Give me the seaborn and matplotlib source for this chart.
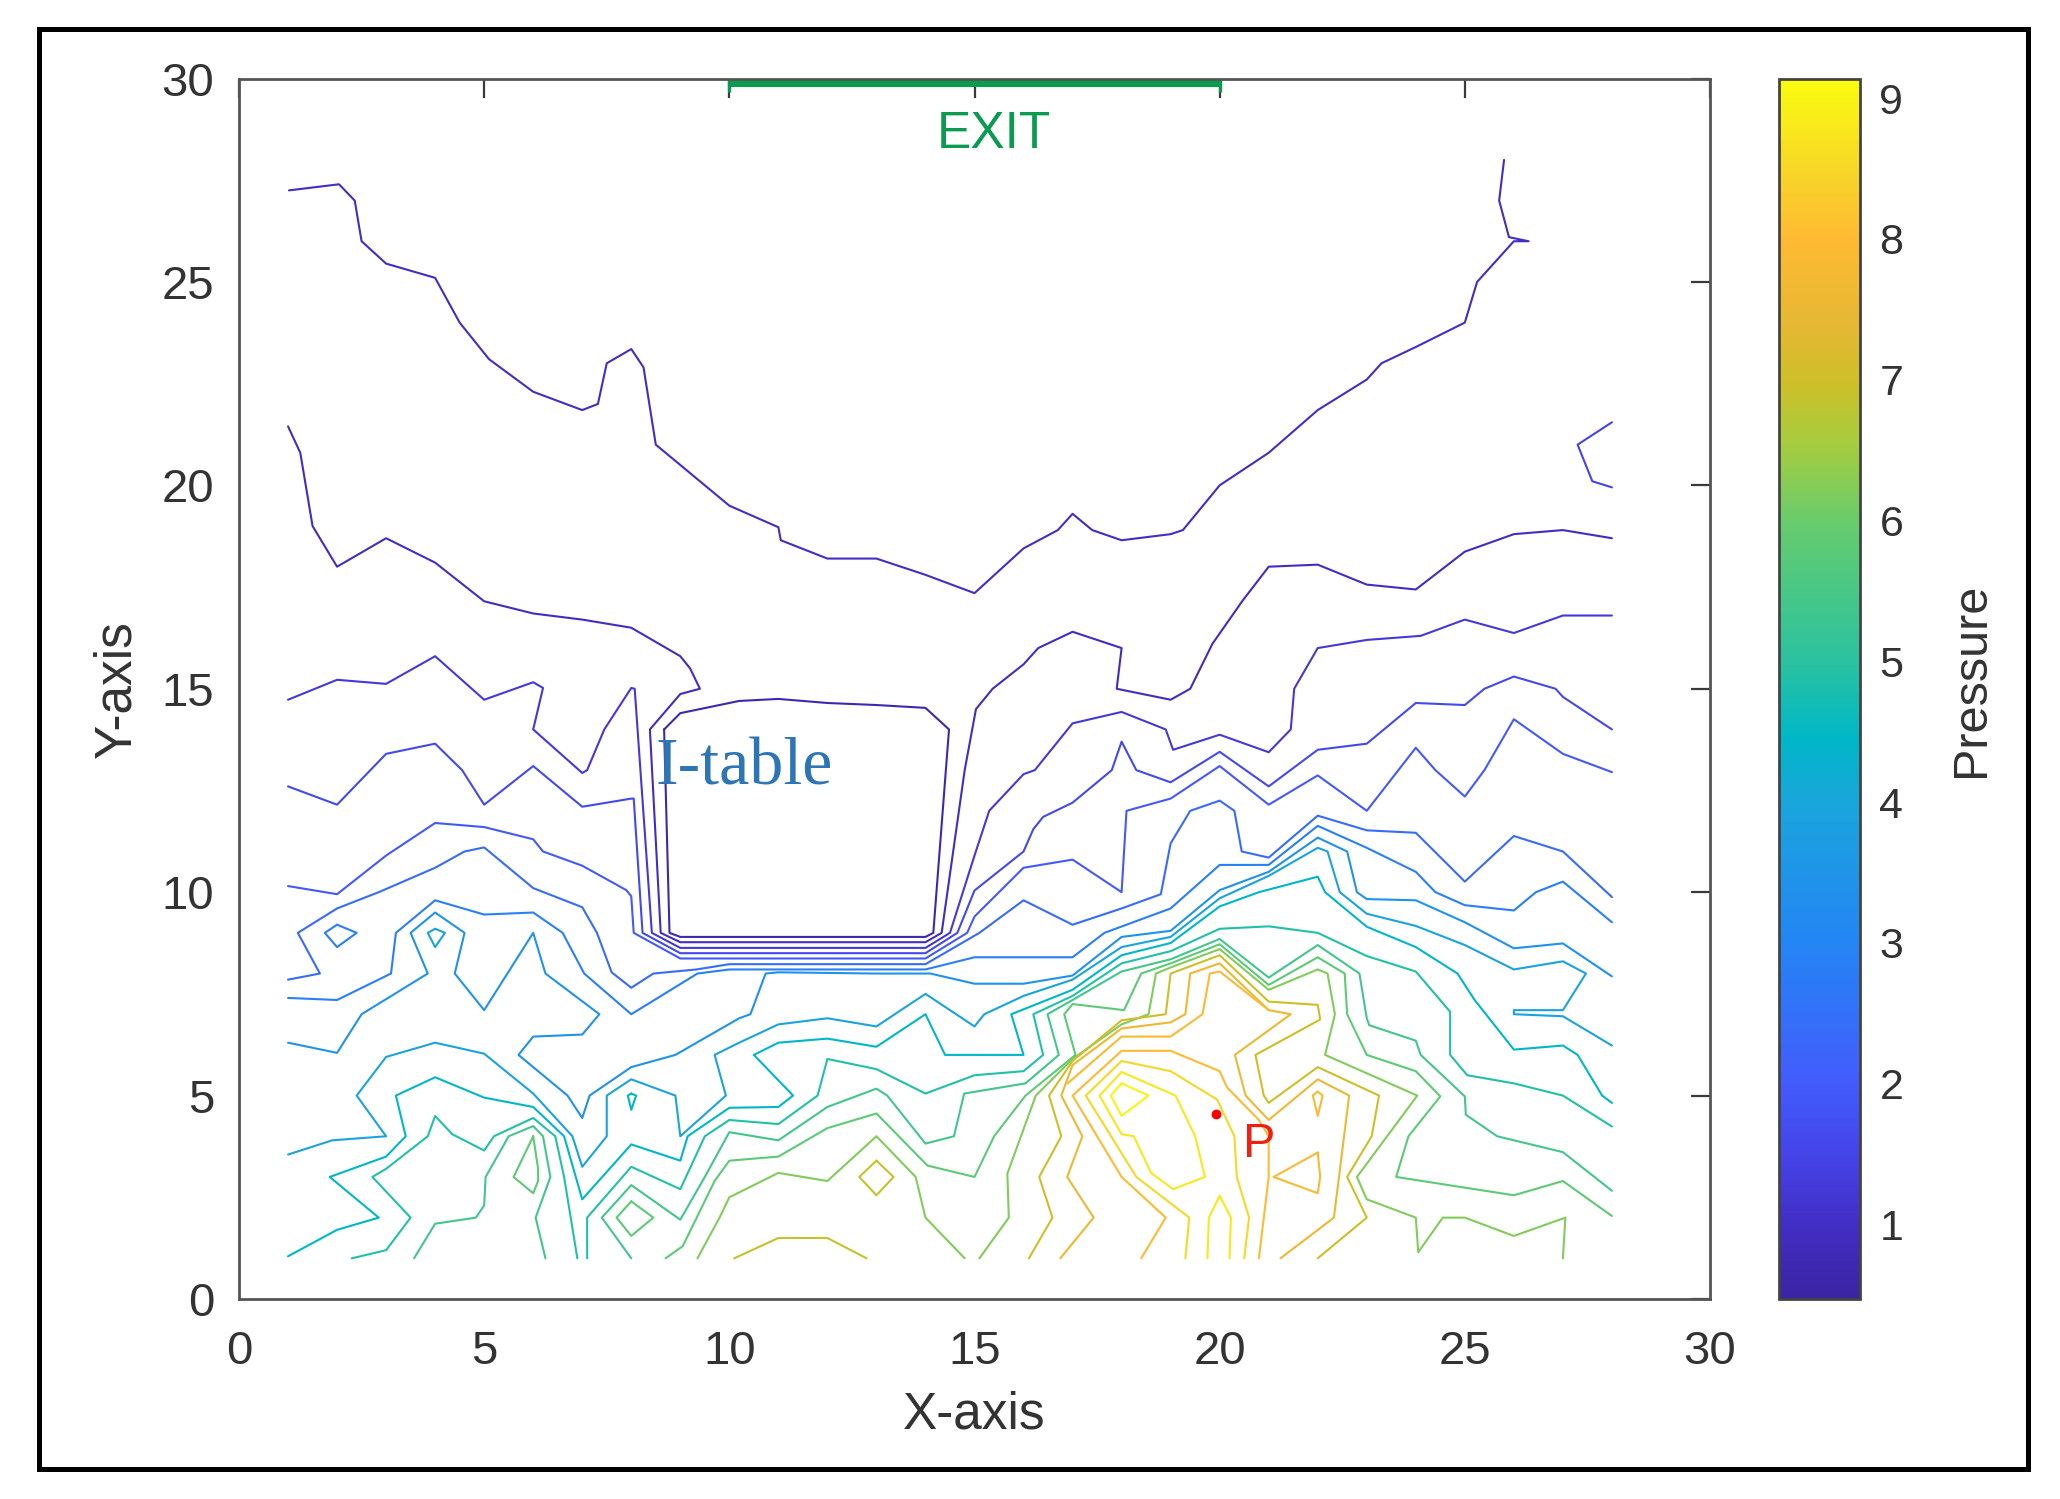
import matplotlib
matplotlib.use("Agg")
import matplotlib.pyplot as plt
from matplotlib.colors import LinearSegmentedColormap, Normalize
from matplotlib.cm import ScalarMappable
from matplotlib.patches import Rectangle
import pandas as pd
import seaborn as sns

# contour lines, (x, y) in axis units
table_inner = [(8.67, 14), (9, 14.4), (10.2, 14.7), (11, 14.75), (12, 14.65), (13, 14.6), (14, 14.53), (14.48, 14),
               (14.16, 9), (14, 8.9), (9, 8.9), (8.78, 9), (8.67, 14)]
line_top = [(1.02, 27.25), (2.04, 27.4), (2.36, 27), (2.5, 26), (3, 25.45), (4, 25.1), (4.5, 24), (5.1, 23.1), (6, 22.3),
            (7, 21.85), (7.32, 22), (7.5, 23), (8, 23.35), (8.25, 22.9), (8.5, 21), (10, 19.5), (11, 18.97), (11.05, 18.65),
            (12, 18.2), (13, 18.2), (14, 17.8), (15, 17.35), (16, 18.45), (16.7, 18.9), (17, 19.3), (17.4, 18.9), (18, 18.65),
            (19, 18.8), (19.25, 18.9), (20, 20), (21, 20.8), (22, 21.85), (23, 22.6), (23.3, 23), (24, 23.4), (25, 24),
            (25.25, 25), (26, 26), (26.3, 26), (25.9, 26.1), (25.7, 27), (25.8, 28)]
line_corner = [(28, 21.55), (27.3, 21), (27.6, 20.1), (28, 19.95)]
line_2 = [(1, 21.45), (1.25, 20.8), (1.5, 19), (2, 18), (3, 18.7), (4, 18.1), (5, 17.15), (6, 16.85), (7, 16.7), (8, 16.5),
          (9, 15.8), (9.2, 15.5), (9.4, 15), (9, 14.87), (8.38, 14), (8.6, 9), (9, 8.77), (14, 8.77), (14.33, 9), (14.8, 13),
          (15.03, 14.5), (15.37, 15), (16, 15.6), (16.3, 16), (17, 16.4), (18, 16), (17.9, 15), (19, 14.73), (19.4, 15),
          (19.85, 16.1), (20.47, 17.17), (21, 18), (22, 18.05), (23, 17.56), (24, 17.44), (25, 18.37), (26, 18.8), (27, 18.9),
          (28, 18.7)]
line_3 = [(1, 14.73), (2, 15.22), (3, 15.12), (4, 15.8), (5, 14.73), (6, 15.16), (6.2, 15.02), (6, 14), (7, 12.93), (7.1, 13),
          (7.45, 14), (8, 15.02), (8.07, 15), (8.42, 9), (9, 8.63), (14, 8.63), (14.5, 9), (15, 10.9), (15.3, 12), (16, 12.9),
          (16.23, 13), (16.9, 14), (17, 14.15), (18, 14.43), (18.9, 14), (19.05, 13.5), (20, 13.87), (21, 13.44), (21.45, 14),
          (21.52, 15), (22, 16), (23, 16.2), (24.1, 16.3), (25, 16.7), (26, 16.37), (27, 16.8), (28, 16.8)]
line_4 = [(1, 12.6), (2, 12.15), (3, 13.4), (4, 13.65), (4.55, 13), (5, 12.15), (6, 13.1), (7, 12.1), (8, 12.3), (8.05, 12.3),
          (8.23, 9), (9, 8.5), (14, 8.5), (14.65, 9), (15, 10.04), (16, 11), (16.2, 11.55), (16.4, 11.85), (17, 12.2), (17.8, 13),
          (18, 13.7), (18.3, 13), (19, 12.7), (20, 13.45), (21, 12.6), (22, 13.5), (23, 13.65), (24, 14.65), (25, 14.6),
          (25.4, 15), (26, 15.3), (26.85, 15), (27, 14.8), (28, 14)]
line_5 = [(1, 10.15), (2, 9.95), (3, 10.9), (4, 11.7), (5, 11.6), (6, 11.3), (6.2, 11), (7, 10.65), (7.9, 10.05), (8, 9.9),
          (8.05, 9), (9, 8.37), (14, 8.37), (14.85, 9), (15, 9.4), (16, 10.6), (17, 10.8), (18, 10), (18.1, 12), (19, 12.3),
          (20, 13.1), (21, 12.15), (22, 12.87), (23, 12), (24, 13.55), (24.4, 13), (25, 12.35), (25.4, 13), (26, 14.25),
          (27, 13.4), (28, 12.95)]
line_6 = [(1, 7.85), (1.65, 8), (1.2, 9), (2, 9.6), (2.85, 10), (4, 10.6), (4.6, 11), (5, 11.1), (6, 10.1), (7, 9.63), (7.3, 9),
          (7.6, 8.03), (8, 7.65), (8.45, 8), (9.33, 8.1), (10, 8.23), (14, 8.23), (15.1, 9), (16, 9.8), (17, 9.2), (18, 9.6),
          (18.8, 9.95), (19, 11.2), (19.4, 12), (20, 12.25), (20.3, 12), (20.45, 11), (21, 10.85), (22, 11.88), (23, 11.52),
          (24, 11.46), (25, 10.26), (26, 11.38), (27, 11), (28, 9.88)]
line_7 = [(1, 7.4), (2, 7.35), (3.1, 8), (3.2, 9), (4, 9.8), (5, 9.45), (6, 9.5), (6.6, 9), (7.04, 8), (8, 7), (9.35, 8), (10, 8.1),
          (14, 8.1), (15, 8.4), (17, 8.4), (17.65, 9), (19, 9.6), (20, 10.67), (21, 10.67), (22, 11.63), (23, 11.09), (24, 10.5),
          (24.4, 10), (25, 9.68), (26, 9.55), (26.45, 10), (27, 10.26), (28, 9.26)]
loop_7 = [(2, 9.2), (2.4, 9), (2, 8.65), (1.75, 9), (2, 9.2)]
line_8 = [(1, 6.3), (2, 6.05), (2.5, 7), (3.85, 8), (3.5, 9), (4, 9.5), (4.6, 9), (4.4, 8), (5, 7.1), (6, 9), (6.25, 8), (7.35, 7),
          (7, 6.5), (6, 6.45), (5.7, 6), (6.7, 5), (7, 4.45), (7.15, 5), (8, 5.7), (8.9, 6), (10.2, 6.9), (10.43, 7), (10.74, 8),
          (11, 8.03), (13, 8), (14.1, 8), (15, 7.75), (16, 7.75), (17, 7.95), (18, 8.9), (19, 9.05), (20, 10.05), (21, 10.5),
          (22, 11.34), (22.6, 11), (22.8, 10), (23, 9.83), (24, 9.8), (25, 9.26), (26, 8.62), (27, 8.74), (28, 7.93)]
line_9 = [(1, 3.55), (1.9, 3.9), (3, 4), (2.4, 5), (3, 5.95), (4, 6.3), (5, 6.03), (6, 5.05), (6.8, 4), (7, 3.25), (7.5, 4), (7.5, 5),
          (8, 5.4), (8.9, 5), (9, 4), (9.93, 5), (9.7, 6), (10.2, 6.3), (11, 6.75), (12, 6.9), (13, 6.7), (14, 7.5), (15, 6.7),
          (15.2, 7), (16, 7.45), (17, 7.85), (18, 8.65), (19, 8.9), (20, 9.85), (21, 10.4), (22, 11.09), (22.2, 11), (22.45, 10),
          (23, 9.47), (24, 9.17), (25, 8.7), (26, 8.1), (27, 8.3), (27.47, 8), (27, 7.1), (26, 7.1), (26, 7), (27, 6.95), (28, 6.23)]
loop_9 = [(4, 9.1), (4.2, 9), (4, 8.65), (3.85, 9), (4, 9.1)]
line_10 = [(1, 1.05), (2, 1.7), (2.85, 2), (1.85, 3), (3, 3.5), (3.4, 4), (3.2, 5), (4, 5.45), (5, 4.95), (6, 4.72), (6.63, 4), (7, 2.45),
           (8, 3.8), (9, 3.4), (9.15, 4), (10, 4.7), (11, 4.72), (11.3, 5), (10.5, 6), (11, 6.3), (12, 6.4), (13, 6.2), (14, 7),
           (14.4, 6), (16, 6), (15.75, 7), (17, 7.6), (18, 8.45), (19, 8.75), (20, 9.65), (20.8, 10), (22, 10.38), (22.15, 10),
           (23, 9.15), (24, 8.65), (24.85, 8), (25.2, 7.35), (26, 6.13), (27, 6.23), (27.3, 6), (27.8, 5), (28, 4.82)]
loop_10 = [(8, 5.05), (8.1, 5), (8, 4.65), (7.93, 5), (8, 5.05)]
line_11 = [(7.1, 1), (7.1, 2), (8, 3.25), (9, 2.7), (9.5, 4), (10, 4.4), (11, 4.3), (11.8, 5), (12, 5.9), (13, 5.65), (14, 5.05),
           (15, 5.5), (16, 5.6), (16.4, 6), (16.2, 7), (17, 7.45), (18, 8.25), (19, 8.55), (20, 9.1), (21, 9.16), (22, 9), (23, 8.43),
           (24, 8.05), (24.7, 7.06), (24.7, 6), (25.05, 5.5), (26, 5.3), (27, 5), (28, 4.24)]
seg_11 = [(2.3, 1), (3, 1.2), (3.5, 2), (2.72, 3), (3, 3.2), (3.85, 4), (4, 4.5), (4.35, 4.05), (5, 3.65), (5.2, 4), (6, 4.45),
          (6.45, 4), (6.63, 3), (6.9, 1)]
line_12 = [(8, 1), (7.4, 2), (8, 2.8), (9, 1.95), (9.5, 3), (10, 4.1), (11, 3.9), (12, 4.72), (13, 5.17), (13.22, 5), (14, 3.82),
           (14.58, 4), (14.79, 5.05), (16.04, 5.3), (16.72, 6), (16.49, 7), (17, 7.35), (18, 8.05), (19, 8.35), (20, 8.85), (21, 7.9),
           (22, 8.7), (22.85, 8), (23, 6.9), (23.05, 6.73), (24, 6.35), (24.1, 6), (25, 4.98), (25.02, 4.53), (25.66, 4), (27, 3.61),
           (28, 2.66)]
seg_12 = [(3.57, 1), (4, 1.85), (4.83, 2), (5, 2.3), (5.03, 3), (5.5, 4), (6, 4.25), (6.2, 4), (6.35, 3), (6.05, 2), (6.25, 1)]
line_13 = [(8.7, 1), (9.05, 1.3), (9.7, 2.9), (10, 3.4), (11, 3.5), (12, 4.2), (13, 4.56), (14.04, 3.28), (15, 3), (15.4, 4), (16.04, 5),
           (17.06, 6), (16.83, 7), (17, 7.25), (18.05, 7.1), (18.4, 8), (19, 8.25), (20, 8.72), (21, 7.72), (22, 8.4), (22.55, 8),
           (22.6, 7), (23, 6), (24, 5.6), (24.5, 4.98), (23.85, 4), (23.6, 3), (26, 2.55), (27, 2.9), (28, 2.04)]
loop_13a = [(6, 4), (6.1, 3.2), (6.1, 2.9), (6, 2.6), (5.6, 3), (6, 4)]
loop_13b = [(8, 2.4), (8.45, 2), (8, 1.55), (7.7, 2), (8, 2.4)]
line_14 = [(15.1, 1), (15.7, 2), (15.67, 3.08), (16.25, 5), (17, 5.9), (18, 6.75), (18.55, 7), (18.7, 8), (19, 8.15), (20, 8.6), (21, 7.6),
           (22, 8.1), (22.2, 8), (22.35, 7), (22.15, 6), (24.03, 5), (22.8, 3), (23, 2.45), (24, 2), (24.05, 1.15), (24.55, 2), (25, 2),
           (26, 1.55), (27.05, 2), (27, 1)]
seg_14 = [(9.35, 1), (9.8, 2), (10, 2.5), (11, 3.1), (12, 2.9), (13, 4), (13.8, 3), (14, 2), (14.8, 1)]
seg_15 = [(10.1, 1), (11, 1.5), (12, 1.5), (12.8, 1)]
loop_15 = [(13, 3.4), (13.35, 3), (13, 2.55), (12.65, 3), (13, 3.4)]
line_16 = [(16.11, 1), (16.59, 2), (16.32, 3), (16.77, 4), (16.52, 5), (17, 5.85), (18, 6.85), (18.9, 7), (19, 8), (20, 8.45), (21, 7.31),
           (22, 7.23), (22.05, 6.87), (20.73, 6), (20.9, 5), (21, 4.82), (22, 5.7), (23.25, 5), (23.1, 4), (22.6, 3), (23, 2), (22, 1)]
line_17 = [(16.75, 1), (17.43, 2), (16.89, 3), (17.2, 4), (16.77, 5), (17, 5.75), (18, 6.65), (19, 6.8), (19.3, 7), (19.4, 8), (20, 8.25),
           (21, 7.1), (21.45, 7), (20.31, 6), (20.53, 5), (21, 4.4), (22, 5.4), (22.64, 5), (22.33, 2), (21.24, 1)]
line_18 = [(16.9, 5.3), (18, 6.45), (19, 6.45), (19.65, 7), (19.8, 8), (20, 8.05), (21, 7.1)]
loop_18a = [(22, 3.6), (22.05, 3), (22, 2.6), (21.1, 3), (22, 3.6)]
loop_18b = [(21.9, 5), (22, 5.1), (22.1, 5), (22, 4.5), (21.9, 5)]
line_19 = [(18.4, 1), (18.9, 2), (18, 3), (17, 5), (18, 6.1), (19, 6.1), (20, 5.6), (20.15, 5.2), (20.8, 4.4), (21, 4), (21, 3), (20.9, 2), (20.8, 1)]
line_20 = [(19.3, 1), (19.38, 2), (18.3, 3), (17.27, 5), (18, 5.85), (19, 5.6), (19.95, 4.9), (20.3, 4), (20.35, 3), (20.6, 2), (20.5, 1)]
loop_21 = [(18, 5.58), (19.1, 5), (19.5, 4), (19.7, 3), (19.05, 2.7), (18.6, 3.1), (18.25, 4), (18, 4.05), (17.55, 5), (18, 5.58)]
arch_21 = [(19.75, 1), (19.78, 2), (20, 2.54), (20.23, 2), (20.2, 1)]
loop_22 = [(18, 5.3), (18.55, 5), (18, 4.5), (17.78, 5), (18, 5.3)]

# pressure of each contour
contours = [
    (0.7, table_inner), (1.0, line_top), (1.5, line_corner), (0.95, line_2), (1.25, line_3), (1.6, line_4), (1.95, line_5),
    (2.4, line_6), (2.85, line_7), (2.85, loop_7), (3.4, line_8), (3.9, line_9), (3.9, loop_9), (4.4, line_10), (4.4, loop_10),
    (4.9, line_11), (4.9, seg_11), (5.4, line_12), (5.4, seg_12), (5.8, line_13), (5.8, loop_13a), (5.8, loop_13b),
    (6.2, line_14), (6.2, seg_14), (6.9, seg_15), (6.9, loop_15), (7.0, line_16), (7.6, line_17), (7.9, line_18),
    (7.9, loop_18a), (7.9, loop_18b), (8.0, line_19), (8.5, line_20), (8.8, loop_21), (8.8, arch_21), (9.0, loop_22),
]

exit_x = [10, 20]
exit_y = [29.88, 29.88]
point_x = [19.93]
point_y = [4.55]
ticks_xy = [0, 5, 10, 15, 20, 25, 30]
ticks_pressure = [1, 2, 3, 4, 5, 6, 7, 8, 9]
pressure_min = 0.47
pressure_max = 9.14

# parula look, fitted to the colorbar
parula = LinearSegmentedColormap.from_list("parula_ish", [
    (0.0, (0.23, 0.14, 0.64)), (0.06, (0.26, 0.18, 0.77)), (0.12, (0.27, 0.27, 0.92)), (0.176, (0.26, 0.36, 0.99)),
    (0.29, (0.14, 0.52, 0.96)), (0.407, (0.10, 0.65, 0.86)), (0.46, (0.00, 0.72, 0.78)), (0.52, (0.16, 0.76, 0.63)),
    (0.635, (0.40, 0.80, 0.43)), (0.70, (0.65, 0.80, 0.25)), (0.75, (0.80, 0.75, 0.16)), (0.80, (0.90, 0.72, 0.20)),
    (0.87, (1.00, 0.73, 0.20)), (0.93, (0.97, 0.85, 0.15)), (1.0, (0.98, 0.99, 0.06)),
])
norm = Normalize(pressure_min, pressure_max)

sns.set_style("white")
plt.rcParams['font.family'] = ['Liberation Sans', 'DejaVu Sans']
ink = '#3a3a3a'
label_color = '#333333'
green = '#0a9a50'

W, H = 2060, 1499
fig = plt.figure(figsize=(W / 100, H / 100), dpi=100)
ax = fig.add_axes([239 / W, 1 - 1299 / H, (1710 - 239) / W, (1299 - 78.5) / H])

for level, pts in contours:
    df = pd.DataFrame(pts, columns=['x', 'y'])
    sns.lineplot(data=df, x='x', y='y', sort=False, estimator=None, errorbar=None, legend=False,
                 color=parula(norm(level)), linewidth=1.5, ax=ax)

# exit bar, table name, point P
sns.lineplot(x=exit_x, y=exit_y, sort=False, estimator=None, errorbar=None, legend=False,
             color=green, linewidth=5.8, marker='|', markersize=13, markeredgewidth=2.4,
             markeredgecolor=green, ax=ax, solid_capstyle='butt')
ax.text(15.4, 28.62, 'EXIT', color=green, fontsize=37, ha='center', va='center')
ax.text(10.3, 13.05, 'I-table', color='#2e75b6', fontsize=49, ha='center', va='center', family=['Liberation Serif'])
sns.scatterplot(x=point_x, y=point_y, color='red', s=50, linewidth=0, legend=False, ax=ax)
ax.text(20.8, 3.8, 'P', color='#f02010', fontsize=35, ha='center', va='center')

ax.set_xlim(0, 30)
ax.set_ylim(0, 30)
ax.set_xticks(ticks_xy)
ax.set_yticks(ticks_xy)
ax.tick_params(direction='in', length=14, width=1.6, color=ink, labelcolor=label_color, labelsize=34,
               top=True, right=True)
ax.tick_params(axis='x', pad=22)
ax.tick_params(axis='y', pad=18)
for s in ax.spines.values():
    s.set_visible(True)
    s.set_color('#555555')
    s.set_linewidth(2)
ax.set_xlabel('X-axis', fontsize=37, color=label_color, labelpad=12)
ax.set_ylabel('Y-axis', fontsize=37, color=label_color, labelpad=14)

# colorbar
cax = fig.add_axes([1779 / W, 1 - 1299 / H, (1860 - 1779) / W, (1299 - 78.5) / H])
cb = fig.colorbar(ScalarMappable(norm=norm, cmap=parula), cax=cax, ticks=ticks_pressure)
cb.ax.tick_params(direction='in', length=14, width=1.6, color=ink, labelcolor=label_color, labelsize=31, pad=14)
cb.outline.set_edgecolor('#444444')
cb.outline.set_linewidth(2)
cb.set_label('Pressure', fontsize=35, color=label_color, labelpad=33, y=0.507)

# black frame round the figure
fig.patches.append(Rectangle((38.5 / W, 1 - 1469 / H), (2028 - 38.5) / W, (1469 - 28.5) / H, transform=fig.transFigure,
                             fill=False, edgecolor='black', linewidth=3.6))

fig.savefig('out.png', dpi=100)
